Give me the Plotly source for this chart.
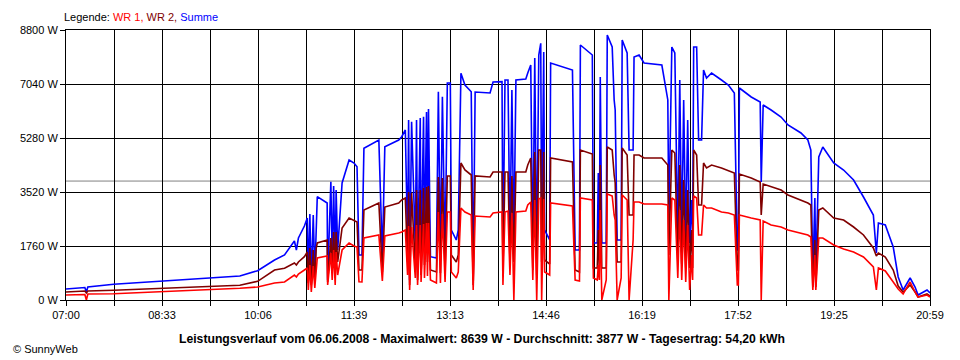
import plotly.graph_objects as go

# minutes after 07:00
minutes = [0, 18.3, 19.8, 21.2, 46.3, 93.5, 139.8, 168.8, 186.1, 202.5,
           212.2, 221.8, 223.7, 225.7, 231.5, 234.3, 235.3, 236.8, 238.2, 240.1,
           241.6, 243.0, 244.0, 253.6, 254.1, 257.2, 258.5, 259.9, 261.4, 262.3,
           263.8, 268.1, 274.9, 279.7, 282.6, 284.5, 287.4, 289.3, 303.8, 307.2,
           309.6, 323.1, 326.0, 329.5, 331.7, 332.7, 333.7, 335.6, 339.2, 340.4,
           341.4, 344.0, 344.8, 347.2, 348.1, 350.1, 351.0, 352.0, 353.9, 359.7,
           361.6, 363.6, 365.5, 368.1, 370.3, 373.2, 374.2, 379.0, 380.9, 383.5,
           387.4, 393.5, 395.4, 397.3, 411.8, 414.7, 423.4, 424.3, 426.3, 429.2,
           431.1, 433.0, 434.9, 436.9, 446.5, 448.4, 451.3, 453.3, 455.2, 457.1,
           459.1, 461.0, 461.9, 463.9, 464.8, 469.7, 470.6, 491.8, 494.4, 498.6,
           499.5, 511.1, 512.1, 515.9, 516.9, 517.9, 518.8, 520.3, 524.6, 525.6,
           530.4, 532.3, 533.3, 535.2, 539.1, 540.1, 544.9, 546.8, 550.7, 551.6,
           556.5, 561.3, 578.6, 584.4, 585.4, 588.3, 591.2, 594.1, 596.0, 597.9,
           599.8, 601.8, 603.7, 605.6, 607.6, 608.5, 609.5, 612.4, 614.3, 617.2,
           619.1, 622.0, 626.9, 636.5, 643.2, 649.0, 651.9, 652.9, 653.9, 665.4,
           674.1, 675.1, 677.0, 684.7, 694.4, 701.1, 713.7, 720.4, 723.3, 725.2,
           727.2, 728.1, 731.0, 734.9, 745.5, 755.1, 764.8, 774.4, 784.0, 786.9,
           788.9, 795.6, 803.3, 808.1, 812.9, 819.7, 824.5, 827.4, 836.1, 839.0]

summe = [359, 407, 261, 424, 512, 619, 717, 782, 955, 1304,
         1467, 1923, 1630, 2021, 2412, 2673, 652, 2803, 554, 2770,
         815, 2868, 3367, 3161, 652, 3856, 1239, 3716, 978, 3585,
         1630, 3813, 4563, 4465, 4345, 1467, 1467, 4944, 5215, 1411,
         4997, 5215, 5322, 5541, 1858, 5867, 652, 5811, 1737, 5867,
         978, 5932, 1206, 5974, 1737, 6127, 1858, 6225, 1411, 1369,
         6789, 1304, 6626, 1411, 7073, 7073, 2282, 1956, 2282, 7389,
         7008, 6789, 652, 6779, 6747, 7105, 7115, 1304, 7170, 7170,
         1858, 6845, 1858, 7170, 7203, 7399, 7659, 1304, 7887, 1206,
         7985, 8367, 1956, 8083, 2282, 1956, 7724, 7496, 1630, 1630,
         8311, 7985, 1858, 1858, 4139, 1858, 7268, 1858, 1858, 8639,
         8246, 6519, 6193, 1956, 1956, 8474, 8050, 4889, 4889, 7920,
         7985, 7724, 7659, 6519, 2510, 8246, 8050, 1858, 7170, 1858,
         6519, 1858, 5867, 1858, 3259, 1858, 8246, 8246, 5215, 5215,
         7496, 7236, 7399, 7170, 7008, 6747, 1630, 1630, 6910, 6616,
         6453, 3846, 6356, 6193, 5964, 5704, 5443, 5215, 4889, 750,
         3324, 750, 4661, 4987, 4465, 4237, 3911, 3357, 2770, 1532,
         2510, 2444, 1727, 750, 326, 717, 424, 163, 326, 228]

wr2 = [261, 293, 228, 293, 316, 381, 424, 479, 609, 978,
       1033, 1206, 1141, 1239, 1411, 1564, 554, 1695, 489, 1630,
       587, 1695, 1858, 1956, 587, 2021, 1043, 2216, 717, 2216,
       1239, 2347, 2673, 2607, 2542, 978, 978, 2933, 3161, 913,
       3031, 3161, 3259, 3324, 1239, 3520, 489, 3487, 1043, 3585,
       652, 3585, 815, 3650, 1141, 3683, 1239, 3716, 978, 913,
       4009, 880, 3976, 913, 4042, 4042, 1467, 1239, 1467, 4465,
       4237, 4074, 489, 4042, 4009, 4172, 4172, 978, 4172, 4172,
       1239, 4042, 1239, 4172, 4172, 4400, 4628, 978, 4824, 815,
       4889, 4889, 1239, 4824, 1304, 1173, 4628, 4498, 978, 913,
       4889, 4759, 1043, 1043, 2282, 1043, 4400, 1043, 1043, 4987,
       4889, 4074, 3813, 1239, 1239, 4954, 4726, 2770, 2770, 4726,
       4726, 4628, 4628, 4400, 1467, 4889, 4791, 1239, 4400, 1173,
       3911, 1043, 3585, 1043, 2282, 1043, 4889, 4726, 3096, 3096,
       4465, 4302, 4400, 4302, 4205, 4139, 978, 978, 4107, 3976,
       3846, 2770, 3781, 3683, 3585, 3422, 3259, 3161, 3096, 424,
       1956, 424, 2933, 2999, 2673, 2607, 2379, 2119, 1695, 1434,
       1532, 1401, 978, 456, 261, 489, 261, 98, 196, 130]

wr1 = [163, 179, 0, 196, 205, 271, 316, 381, 424, 554,
       587, 815, 750, 847, 978, 1043, 326, 1141, 261, 1108,
       391, 1173, 1369, 1434, 489, 1532, 652, 1630, 489, 1564,
       815, 1630, 1858, 1760, 1727, 596, 587, 2021, 2119, 619,
       2086, 2184, 2216, 2282, 815, 2412, 326, 2379, 717, 2444,
       489, 2444, 587, 2477, 717, 2510, 782, 2510, 652, 554,
       2868, 554, 2803, 587, 2868, 2868, 913, 717, 913, 2999,
       2868, 2770, 326, 2738, 2705, 2836, 2868, 489, 2868, 2901,
       815, 2836, 0, 2868, 2901, 3096, 3194, 652, 3259, 0,
       3292, 3324, 0, 3292, 913, 815, 3161, 3064, 652, 619,
       3324, 3259, 717, 652, 1141, 652, 2933, 0, 652, 3455,
       3390, 2770, 2607, 0, 717, 3422, 3259, 0, 1956, 3194,
       3194, 3129, 3129, 3096, 0, 3324, 3259, 717, 2933, 652,
       2607, 587, 2444, 326, 1467, 652, 3390, 3324, 2119, 2119,
       3096, 2999, 2999, 2868, 2836, 2770, 489, 489, 2770, 2673,
       2607, 0, 2575, 2444, 2379, 2282, 2184, 2119, 2053, 326,
       1467, 326, 2021, 2021, 1793, 1662, 1564, 1401, 1076, 326,
       1043, 945, 587, 359, 196, 587, 261, 98, 163, 98]

x_tick_labels = ["07:00", "08:33", "10:06", "11:39", "13:13",
                 "14:46", "16:19", "17:52", "19:25", "20:59"]
y_tick_values = [0, 1760, 3520, 5280, 7040, 8800]
average_w = 3877
title_text = ("Leistungsverlauf vom 06.06.2008 - Maximalwert: 8639 W - "
              "Durchschnitt: 3877 W - Tagesertrag: 54,20 kWh")

assert len(minutes) == len(summe) == len(wr2) == len(wr1)

span = 839
n_div = 18
x_tickvals = [i * span / n_div for i in range(n_div + 1)]
x_ticktext = []
for i in range(n_div + 1):
    x_ticktext.append(x_tick_labels[i // 2] if i % 2 == 0 else "")

fig = go.Figure()
fig.add_trace(go.Scatter(x=minutes, y=summe, mode="lines", name="Summe",
                         line=dict(color="#0000FF", width=1.6)))
fig.add_trace(go.Scatter(x=minutes, y=wr2, mode="lines", name="WR 2",
                         line=dict(color="#800000", width=1.6)))
fig.add_trace(go.Scatter(x=minutes, y=wr1, mode="lines", name="WR 1",
                         line=dict(color="#FF0000", width=1.6)))

fig.add_shape(type="line", xref="paper", x0=0, x1=1, yref="y",
              y0=average_w, y1=average_w, layer="between",
              line=dict(color="#808080", width=1))

font = "Liberation Sans, Arial, sans-serif"
# page body has an 8px margin, so the figure is a bit smaller than the window
fig.update_layout(
    width=952, height=352,
    margin=dict(l=52, r=30, t=22, b=60),
    paper_bgcolor="white", plot_bgcolor="white",
    showlegend=False,
    font=dict(family=font, size=11, color="black"),
    xaxis=dict(range=[0, span], tickvals=x_tickvals, ticktext=x_ticktext,
               showgrid=True, gridcolor="black", gridwidth=1,
               ticks="outside", ticklen=5, tickcolor="black",
               showline=True, linecolor="black", linewidth=1, mirror=True,
               zeroline=False, fixedrange=True,
               tickfont=dict(family=font, size=11, color="black")),
    yaxis=dict(range=[0, 8800], tickvals=y_tick_values,
               ticktext=[f"{v} W" for v in y_tick_values],
               showgrid=True, gridcolor="black", gridwidth=1,
               ticks="outside", ticklen=5, tickcolor="black",
               showline=True, linecolor="black", linewidth=1, mirror=True,
               zeroline=False, fixedrange=True,
               tickfont=dict(family=font, size=11, color="black")),
    annotations=[
        dict(text="Legende: <span style='color:#FF0000'>WR 1,</span> "
                  "<span style='color:#800000'>WR 2,</span> "
                  "<span style='color:#0000FF'>Summe</span>",
             xref="paper", yref="paper", x=0, y=1, xshift=-4, yshift=13,
             xanchor="left", yanchor="middle", showarrow=False,
             font=dict(family=font, size=11, color="black")),
        dict(text="<b>" + title_text + "</b>",
             xref="paper", yref="paper", x=0.482, y=0, yshift=-39,
             xanchor="center", yanchor="middle", showarrow=False,
             font=dict(family=font, size=12.2, color="black")),
        dict(text="© SunnyWeb", xref="paper", yref="paper",
             x=0, y=0, xshift=-55, yshift=-49,
             xanchor="left", yanchor="middle", showarrow=False,
             font=dict(family=font, size=11, color="black")),
    ],
)

fig.write_html("out.html", config={"displayModeBar": False})
